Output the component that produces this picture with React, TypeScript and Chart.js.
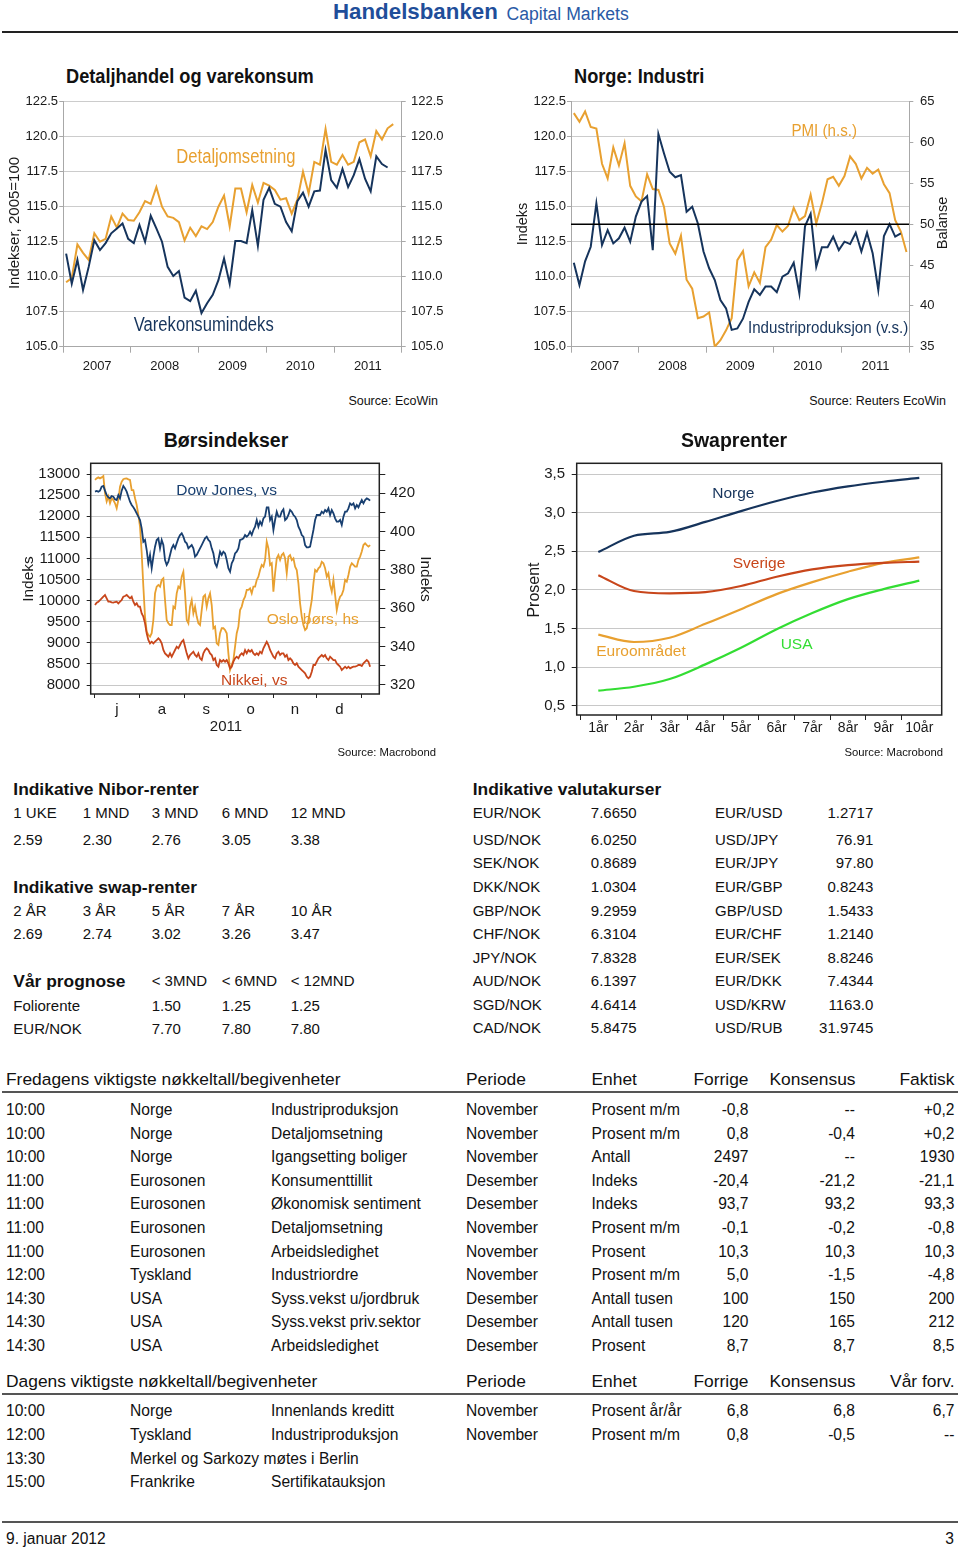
import React, { useEffect, useRef } from 'react';
import { Chart, registerables } from 'chart.js';

Chart.register(...registerables);

const SANS = '"Liberation Sans", Arial, Helvetica, sans-serif';

const NAVY = '#16345c';
const ORANGE = '#e8a030';
const NAVY3 = '#183f70';
const RED = '#c8461b';
const GREEN = '#33dd33';
const INK = '#1a1a1a';

// ---------- Detaljhandel og varekonsum (monthly, Jan 2007 ->)
const yearLabels = ['2007', '2008', '2009', '2010', '2011'];
const yearTicks = [0, 6, 12, 18, 24, 30, 36, 42, 48, 54, 60];
const indexLevels = [105, 107.5, 110, 112.5, 115, 117.5, 120, 122.5];
const detaljomsetning = [109.6, 109.9, 112.3, 111.7, 111.2, 113.1, 112.5, 112.7, 114.3, 113.5, 114.5, 114.05, 114.0, 114.6, 115.4, 115.2, 116.4, 115.0, 114.3, 114.2, 113.9, 112.6, 113.5, 112.9, 113.6, 113.4, 113.9, 115.0, 115.8, 113.6, 116.3, 116.3, 114.6, 116.55, 115.3, 116.7, 116.5, 116.2, 115.5, 115.6, 114.5, 115.5, 117.5, 115.95, 118.2, 118.0, 120.55, 118.2, 118.0, 118.7, 118.0, 118.2, 119.6, 119.8, 118.6, 120.4, 119.8, 120.6, 120.9];
const varekonsum = [111.65, 109.5, 111.2, 109.05, 110.7, 112.6, 111.9, 112.4, 113.1, 113.45, 113.8, 112.7, 112.4, 113.7, 112.5, 114.35, 113.45, 112.5, 110.7, 110.05, 110.4, 108.5, 108.25, 109.0, 107.4, 108.1, 108.7, 109.75, 111.3, 109.5, 112.55, 112.55, 112.4, 114.75, 112.2, 115.5, 116.35, 115.2, 115.0, 113.9, 113.25, 115.4, 116.0, 115.0, 116.1, 116.15, 119.05, 116.9, 116.35, 117.7, 116.4, 117.25, 118.4, 117.0, 116.1, 118.6, 118.05, 117.8];

// ---------- Norge: Industri
const pmiLevels = [35, 40, 45, 50, 55, 60, 65];
const pmi = [63.6, 62.55, 63.8, 61.9, 61.7, 57.4, 55.6, 59.4, 57.2, 59.9, 54.7, 53.4, 52.8, 56.1, 54.3, 54.2, 52.1, 47.65, 46.4, 48.6, 43.2, 42.1, 38.5, 38.7, 39.2, 35.0, 35.8, 37.0, 38.5, 45.6, 46.7, 42.4, 44.1, 42.8, 47.2, 48.1, 49.9, 49.1, 49.8, 52.0, 50.5, 51.0, 53.6, 50.1, 52.55, 55.5, 55.8, 54.7, 55.9, 58.3, 57.4, 55.6, 56.9, 56.2, 56.7, 54.9, 53.8, 50.5, 49.1, 46.6];
const industriproduksjon = [111.0, 109.4, 111.1, 112.14, 115.24, 112.26, 113.33, 112.38, 112.74, 113.5, 112.5, 114.29, 115.36, 115.76, 111.9, 120.19, 118.8, 117.5, 117.1, 117.26, 114.64, 115.0, 113.8, 111.8, 110.6, 109.76, 108.33, 107.74, 106.2, 106.3, 107.0, 108.2, 109.1, 108.7, 109.3, 109.3, 108.9, 110.0, 110.24, 111.0, 108.8, 113.6, 114.5, 110.7, 112.1, 112.1, 112.86, 111.9, 112.5, 112.33, 113.14, 111.8, 113.14, 111.67, 109.05, 112.9, 113.76, 112.86, 113.1];
const pmiBalanceLine = [50, 50];

// ---------- Børsindekser (days since 1 July 2011, sampled ~ every trading day)
const BORS_DAY0 = 0.46;
const BORS_STEP = 1.1468;
const monthTicks = [0, 15.5, 31, 46.5, 62, 77, 92, 107.5, 123, 138, 153, 168.5, 184];
const monthLetters = ['j', 'a', 's', 'o', 'n', 'd'];
const borsLeftLevels = [8000, 8500, 9000, 9500, 10000, 10500, 11000, 11500, 12000, 12500, 13000];
const borsRightLevels = [320, 330, 340, 350, 360, 370, 380, 390, 400, 410, 420, 430];
const dowJones = [12581, 12597, 12581, 12605, 12700, 12716, 12605, 12502, 12447, 12423, 12479, 12463, 12400, 12384, 12502, 12423, 12605, 12716, 12660, 12581, 12463, 12344, 12265, 12210, 12147, 12068, 11989, 11910, 11712, 11396, 11436, 11199, 10883, 11081, 10765, 11041, 11278, 11436, 11475, 11238, 11436, 11317, 10962, 10844, 10923, 11081, 11238, 11317, 11238, 11357, 11475, 11554, 11594, 11515, 11396, 11357, 11238, 11278, 11317, 11238, 11041, 11081, 11160, 11238, 11317, 11396, 11475, 11515, 11436, 11396, 11238, 11120, 10883, 10804, 10962, 11160, 11081, 11160, 11120, 10962, 10765, 10686, 10883, 10962, 11120, 11160, 11238, 11436, 11452, 11475, 11554, 11515, 11554, 11633, 11554, 11673, 11752, 11910, 11752, 11870, 11791, 11949, 11989, 12210, 12210, 11910, 11989, 11673, 11910, 12107, 11989, 11989, 12107, 12163, 11910, 11949, 12028, 12147, 12107, 12028, 11989, 11910, 11752, 11673, 11554, 11515, 11317, 11262, 11262, 11278, 11475, 11673, 11910, 12028, 12028, 12028, 12107, 12068, 12147, 12107, 12186, 12028, 12147, 12068, 11949, 11870, 11870, 11910, 11791, 11989, 12107, 12107, 12186, 12305, 12265, 12305, 12186, 12265, 12210, 12305, 12384, 12305, 12384, 12423, 12400, 12368];
const osloBors = [427.0, 427.8, 428.3, 427.8, 428.3, 429.0, 420.0, 415.7, 418.3, 414.8, 417.4, 416.5, 414.8, 412.2, 416.5, 423.5, 426.1, 427.3, 427.7, 427.8, 427.3, 427.0, 421.7, 421.7, 417.4, 413.9, 408.7, 402.6, 388.7, 371.3, 355.7, 347.8, 346.1, 345.2, 347.0, 353.9, 367.8, 371.3, 372.2, 371.3, 374.8, 375.7, 364.3, 353.9, 352.2, 351.3, 351.3, 360.9, 360.0, 367.8, 371.3, 370.4, 376.5, 379.1, 367.8, 353.9, 352.2, 360.9, 364.3, 357.4, 360.9, 355.7, 352.2, 351.3, 359.1, 366.1, 367.0, 360.9, 365.2, 367.8, 361.7, 349.6, 350.4, 341.7, 340.9, 347.0, 349.6, 349.6, 348.7, 347.0, 336.5, 327.8, 330.4, 333.0, 340.0, 347.0, 350.4, 359.1, 360.9, 364.3, 366.1, 369.6, 369.6, 370.4, 367.8, 371.3, 371.3, 374.8, 376.5, 380.0, 382.6, 381.7, 385.2, 394.8, 391.3, 382.6, 383.5, 368.7, 378.3, 386.1, 387.8, 385.2, 387.8, 388.7, 386.1, 378.3, 387.0, 387.8, 385.2, 386.1, 381.7, 380.0, 373.0, 362.6, 355.7, 351.3, 348.7, 349.6, 353.9, 359.1, 364.3, 373.0, 380.0, 379.1, 380.9, 381.7, 384.3, 383.5, 380.9, 376.5, 378.3, 372.2, 368.7, 374.8, 367.0, 359.1, 363.5, 366.1, 367.0, 369.6, 374.8, 373.9, 377.4, 381.7, 383.5, 382.6, 381.7, 381.7, 385.2, 387.0, 389.6, 393.0, 393.9, 393.0, 392.2, 393.0];
const nikkei = [9896, 9951, 9975, 10014, 10054, 10093, 10133, 10054, 9975, 9975, 9959, 9951, 9967, 9975, 9935, 9975, 10014, 10093, 10109, 10133, 10093, 10054, 10093, 9975, 9896, 9935, 9856, 9856, 9698, 9619, 9461, 9224, 9066, 8987, 9027, 8987, 9027, 9066, 9106, 9066, 8987, 8829, 8750, 8711, 8671, 8750, 8671, 8750, 8829, 8908, 8869, 8948, 9027, 9066, 8908, 8750, 8632, 8711, 8750, 8790, 8711, 8671, 8750, 8632, 8592, 8750, 8829, 8869, 8829, 8750, 8711, 8592, 8632, 8474, 8434, 8592, 8553, 8592, 8553, 8592, 8513, 8395, 8434, 8553, 8632, 8671, 8632, 8711, 8750, 8711, 8829, 8750, 8829, 8790, 8829, 8750, 8711, 8750, 8711, 8790, 8750, 8869, 8948, 9027, 8948, 8829, 8750, 8671, 8632, 8750, 8790, 8711, 8750, 8750, 8671, 8711, 8592, 8632, 8592, 8513, 8474, 8513, 8434, 8395, 8355, 8316, 8276, 8197, 8158, 8197, 8316, 8474, 8474, 8553, 8632, 8671, 8711, 8671, 8711, 8632, 8592, 8671, 8632, 8592, 8592, 8513, 8474, 8434, 8355, 8395, 8434, 8395, 8434, 8395, 8418, 8434, 8434, 8450, 8474, 8474, 8450, 8513, 8553, 8592, 8553, 8434];

// ---------- Swaprenter
const tenors = ['1år', '2år', '3år', '4år', '5år', '6år', '7år', '8år', '9år', '10år'];
const tenorTicks = [0.5, 1, 1.5, 2, 2.5, 3, 3.5, 4, 4.5, 5, 5.5, 6, 6.5, 7, 7.5, 8, 8.5, 9, 9.5, 10];
const swapLevels = [0.5, 1, 1.5, 2, 2.5, 3, 3.5];
const swapNorge = [2.49, 2.70, 2.75, 2.88, 3.02, 3.15, 3.26, 3.34, 3.40, 3.45];
const swapSverige = [2.19, 1.985, 1.955, 1.97, 2.05, 2.17, 2.265, 2.32, 2.35, 2.365];
const swapEuro = [1.42, 1.325, 1.38, 1.56, 1.75, 1.945, 2.10, 2.235, 2.35, 2.42];
const swapUSA = [0.695, 0.745, 0.845, 1.035, 1.25, 1.49, 1.70, 1.88, 2.01, 2.12];

// ---------- Tables
const niborHeads = ['1 UKE', '1 MND', '3 MND', '6 MND', '12 MND'];
const niborRates = ['2.59', '2.30', '2.76', '3.05', '3.38'];
const swapHeads = ['2 ÅR', '3 ÅR', '5 ÅR', '7 ÅR', '10 ÅR'];
const swapRates = ['2.69', '2.74', '3.02', '3.26', '3.47'];
const prognoseHeads = ['< 3MND', '< 6MND', '< 12MND'];
const prognoseFolio = ['1.50', '1.25', '1.25'];
const prognoseEurNok = ['7.70', '7.80', '7.80'];
const fxLeft = [['EUR/NOK', '7.6650'], ['USD/NOK', '6.0250'], ['SEK/NOK', '0.8689'], ['DKK/NOK', '1.0304'], ['GBP/NOK', '9.2959'], ['CHF/NOK', '6.3104'], ['JPY/NOK', '7.8328'], ['AUD/NOK', '6.1397'], ['SGD/NOK', '4.6414'], ['CAD/NOK', '5.8475']];
const fxRight = [['EUR/USD', '1.2717'], ['USD/JPY', '76.91'], ['EUR/JPY', '97.80'], ['EUR/GBP', '0.8243'], ['GBP/USD', '1.5433'], ['EUR/CHF', '1.2140'], ['EUR/SEK', '8.8246'], ['EUR/DKK', '7.4344'], ['USD/KRW', '1163.0'], ['USD/RUB', '31.9745']];
const fredagHead = ['Fredagens viktigste nøkkeltall/begivenheter', 'Periode', 'Enhet', 'Forrige', 'Konsensus', 'Faktisk'];
const fredagRows = [
  ['10:00', 'Norge', 'Industriproduksjon', 'November', 'Prosent m/m', '-0,8', '--', '+0,2'],
  ['10:00', 'Norge', 'Detaljomsetning', 'November', 'Prosent m/m', '0,8', '-0,4', '+0,2'],
  ['10:00', 'Norge', 'Igangsetting boliger', 'November', 'Antall', '2497', '--', '1930'],
  ['11:00', 'Eurosonen', 'Konsumenttillit', 'Desember', 'Indeks', '-20,4', '-21,2', '-21,1'],
  ['11:00', 'Eurosonen', 'Økonomisk sentiment', 'Desember', 'Indeks', '93,7', '93,2', '93,3'],
  ['11:00', 'Eurosonen', 'Detaljomsetning', 'November', 'Prosent m/m', '-0,1', '-0,2', '-0,8'],
  ['11:00', 'Eurosonen', 'Arbeidsledighet', 'November', 'Prosent', '10,3', '10,3', '10,3'],
  ['12:00', 'Tyskland', 'Industriordre', 'November', 'Prosent m/m', '5,0', '-1,5', '-4,8'],
  ['14:30', 'USA', 'Syss.vekst u/jordbruk', 'Desember', 'Antall tusen', '100', '150', '200'],
  ['14:30', 'USA', 'Syss.vekst priv.sektor', 'Desember', 'Antall tusen', '120', '165', '212'],
  ['14:30', 'USA', 'Arbeidsledighet', 'Desember', 'Prosent', '8,7', '8,7', '8,5'],
];
const dagensHead = ['Dagens viktigste nøkkeltall/begivenheter', 'Periode', 'Enhet', 'Forrige', 'Konsensus', 'Vår forv.'];
const dagensRows = [
  ['10:00', 'Norge', 'Innenlands kreditt', 'November', 'Prosent år/år', '6,8', '6,8', '6,7'],
  ['12:00', 'Tyskland', 'Industriproduksjon', 'November', 'Prosent m/m', '0,8', '-0,5', '--'],
  ['13:30', 'Merkel og Sarkozy møtes i Berlin', '', '', '', '', '', ''],
  ['15:00', 'Frankrike', 'Sertifikatauksjon', '', '', '', '', ''],
];

// ---------- helpers
const monthly = (vals: number[]) => vals.map((v, i) => ({ x: i + 0.5, y: v }));
const borsPoints = (vals: number[]) => vals.map((v, i) => ({ x: BORS_DAY0 + i * BORS_STEP, y: v }));
const tenorPoints = (vals: number[]) => vals.map((v, i) => ({ x: i + 1, y: v }));

const textPlugin: any = {
  id: 'texts',
  beforeDatasetsDraw(chart: any, _a: any, opts: any) {
    const items = (opts && opts.items) || [];
    const ctx = chart.ctx;
    for (const it of items) {
      let x = it.x;
      let y = it.y;
      if (!it.px) {
        x = chart.scales.x.getPixelForValue(it.x);
        y = chart.scales[it.axis || 'y'].getPixelForValue(it.y);
      }
      ctx.save();
      ctx.font = it.font;
      ctx.fillStyle = it.color;
      ctx.textAlign = it.align || 'center';
      ctx.textBaseline = 'middle';
      ctx.translate(x, y);
      if (it.rot) ctx.rotate(it.rot);
      if (it.sx) ctx.scale(it.sx, 1);
      ctx.fillText(it.t, 0, 0);
      ctx.restore();
    }
  },
};

const framePlugin: any = {
  id: 'frame',
  afterDraw(chart: any, _a: any, opts: any) {
    if (!opts || !opts.color) return;
    const { ctx, chartArea: a } = chart;
    ctx.save();
    ctx.strokeStyle = opts.color;
    ctx.lineWidth = opts.width || 1;
    ctx.strokeRect(a.left, a.top, a.right - a.left, a.bottom - a.top);
    ctx.restore();
  },
};

function yAxis(o: any) {
  return {
    type: 'linear',
    position: o.pos,
    min: o.min,
    max: o.max,
    afterBuildTicks: (s: any) => {
      s.ticks = o.ticks.map((v: number) => ({ value: v }));
    },
    afterFit: (s: any) => {
      s.width = o.width;
    },
    ticks: { autoSkip: false, padding: o.pad, color: INK, font: o.font, callback: (v: number) => o.fmt(v) },
    grid: {
      drawOnChartArea: o.grid,
      color: o.gridColor || '#cccccc',
      tickLength: o.tickLen,
      tickColor: o.tickColor,
      lineWidth: 1,
    },
    border: { display: o.border, color: o.borderColor || '#a8a8a8' },
  };
}

function xAxis(o: any) {
  const col = (c: any) => (c.tick && o.isMark(c.tick.value) ? o.markColor : 'rgba(0,0,0,0)');
  return {
    type: 'linear',
    position: 'bottom',
    min: o.min,
    max: o.max,
    afterBuildTicks: (s: any) => {
      s.ticks = o.ticks.map((v: number) => ({ value: v }));
    },
    afterFit: (s: any) => {
      s.height = o.height;
    },
    ticks: {
      autoSkip: false,
      maxRotation: 0,
      minRotation: 0,
      padding: o.pad,
      color: INK,
      font: o.font,
      callback: (v: number, i: number) => o.fmt(v, i),
    },
    grid: { drawOnChartArea: false, tickLength: o.tickLen, color: col, tickColor: col, lineWidth: 1 },
    border: { display: o.border, color: o.borderColor || '#a8a8a8' },
  };
}

const baseOptions = (padTop: number, padRight = 0) => ({
  animation: false,
  responsive: false,
  events: [],
  layout: { padding: { top: padTop, left: 0, right: padRight, bottom: 0 } },
});

const line = (data: any[], color: string, width: number, axis = 'y', extra: any = {}) => ({
  data,
  borderColor: color,
  backgroundColor: color,
  borderWidth: width,
  pointRadius: 0,
  fill: false,
  yAxisID: axis,
  ...extra,
});

function cfgDetalj(): any {
  const W = 460, H = 320;
  const f13 = { family: SANS, size: 13 };
  return {
    type: 'line',
    data: {
      datasets: [
        line(monthly(varekonsum), NAVY, 2),
        line(monthly(detaljomsetning), ORANGE, 2),
      ],
    },
    options: {
      ...baseOptions(41.7),
      plugins: {
        legend: { display: false },
        tooltip: { enabled: false },
        texts: {
          items: [
            { t: 'Detaljomsetning', x: 30.6, y: 118.55, font: `20px ${SANS}`, sx: 0.83, color: ORANGE },
            { t: 'Varekonsumindeks', x: 24.9, y: 106.48, font: `20px ${SANS}`, sx: 0.83, color: NAVY },
            { t: 'Indekser, 2005=100', px: true, x: 15, y: 163, rot: -Math.PI / 2, font: `15px ${SANS}`, color: INK },
          ],
        },
      },
      scales: {
        x: xAxis({
          min: 0, max: 60, ticks: yearTicks, height: H - 286.7, tickLen: 6, pad: 5.5, font: f13,
          fmt: (v: number) => (v % 12 === 6 ? yearLabels[(v - 6) / 12] : ''),
          isMark: (v: number) => v % 12 === 0, markColor: '#a8a8a8', border: true,
        }),
        y: yAxis({ pos: 'left', min: 105, max: 122.5, ticks: indexLevels, width: 63.3, pad: 1.3, tickLen: 4, tickColor: '#a8a8a8', font: f13, fmt: (v: number) => v.toFixed(1), grid: true, border: true }),
        y1: yAxis({ pos: 'right', min: 105, max: 122.5, ticks: indexLevels, width: W - 401.7, pad: 5.3, tickLen: 4, tickColor: '#a8a8a8', font: f13, fmt: (v: number) => v.toFixed(1), grid: false, border: true }),
      },
    },
    plugins: [textPlugin],
  };
}

function cfgIndustri(): any {
  const W = 460, H = 320;
  const f13 = { family: SANS, size: 13 };
  return {
    type: 'line',
    data: {
      datasets: [
        line([{ x: 0, y: pmiBalanceLine[0] }, { x: 60, y: pmiBalanceLine[1] }], '#000000', 1.5, 'y1'),
        line(monthly(industriproduksjon), NAVY, 2),
        line(monthly(pmi), ORANGE, 2, 'y1'),
      ],
    },
    options: {
      ...baseOptions(41.7),
      plugins: {
        legend: { display: false },
        tooltip: { enabled: false },
        texts: {
          items: [
            { t: 'PMI (h.s.)', x: 44.9, y: 61.33, axis: 'y1', font: `17px ${SANS}`, sx: 0.89, color: ORANGE },
            { t: 'Industriproduksjon (v.s.)', x: 45.6, y: 106.3, font: `17px ${SANS}`, sx: 0.89, color: NAVY },
            { t: 'Indeks', px: true, x: 22.7, y: 164, rot: -Math.PI / 2, font: `14.5px ${SANS}`, color: INK },
            { t: 'Balanse', px: true, x: 443, y: 163, rot: -Math.PI / 2, font: `14.5px ${SANS}`, color: INK },
          ],
        },
      },
      scales: {
        x: xAxis({
          min: 0, max: 60, ticks: yearTicks, height: H - 286.7, tickLen: 6, pad: 5.5, font: f13,
          fmt: (v: number) => (v % 12 === 6 ? yearLabels[(v - 6) / 12] : ''),
          isMark: (v: number) => v % 12 === 0, markColor: '#a8a8a8', border: true,
        }),
        y: yAxis({ pos: 'left', min: 105, max: 122.5, ticks: indexLevels, width: 71, pad: 1, tickLen: 4, tickColor: '#a8a8a8', font: f13, fmt: (v: number) => v.toFixed(1), grid: true, border: true }),
        y1: yAxis({ pos: 'right', min: 35, max: 65, ticks: pmiLevels, width: W - 409.3, pad: 6.7, tickLen: 4, tickColor: '#a8a8a8', font: f13, fmt: (v: number) => String(v), grid: false, border: true }),
      },
    },
    plugins: [textPlugin],
  };
}

function cfgBors(): any {
  const W = 460, H = 340;
  const f15 = { family: SANS, size: 15 };
  return {
    type: 'line',
    data: {
      datasets: [
        line(borsPoints(dowJones), NAVY3, 1.8),
        line(borsPoints(nikkei), RED, 1.8),
        line(borsPoints(osloBors), ORANGE, 1.8, 'y1'),
      ],
    },
    options: {
      ...baseOptions(43.3),
      plugins: {
        legend: { display: false },
        tooltip: { enabled: false },
        frame: { color: '#222222', width: 1.5 },
        texts: {
          items: [
            { t: 'Dow Jones, vs', x: 91, y: 12597, font: `15.5px ${SANS}`, color: NAVY3 },
            { t: 'Oslo børs, hs', x: 150.2, y: 9556, font: `15.5px ${SANS}`, color: ORANGE },
            { t: 'Nikkei, vs', x: 110, y: 8102, font: `15.5px ${SANS}`, color: RED },
            { t: 'Indeks', px: true, x: 28.3, y: 159, rot: -Math.PI / 2, font: `15.5px ${SANS}`, color: INK },
            { t: 'Indeks', px: true, x: 425, y: 159, rot: Math.PI / 2, font: `15.5px ${SANS}`, color: INK },
            { t: '2011', px: true, x: 226, y: 307, font: `15px ${SANS}`, color: INK },
          ],
        },
      },
      scales: {
        x: xAxis({
          min: -2.5, max: 196, ticks: monthTicks, height: H - 274, tickLen: 4, pad: 3, font: f15,
          fmt: (_v: number, i: number) => (i % 2 === 1 ? monthLetters[(i - 1) / 2] : ''),
          isMark: (v: number) => monthTicks.indexOf(v) % 2 === 0, markColor: '#222222', border: false,
        }),
        y: yAxis({ pos: 'left', min: 7787, max: 13253.6, ticks: borsLeftLevels, width: 90.7, pad: 6.7, tickLen: 4, tickColor: '#222222', gridColor: '#c8c8c8', font: f15, fmt: (v: number) => String(v), grid: true, border: false }),
        y1: yAxis({ pos: 'right', min: 315.3, max: 435.65, ticks: borsRightLevels, width: W - 379.3, pad: 4.7, tickLen: 6, tickColor: '#222222', font: f15, fmt: (v: number) => (v % 20 === 0 ? String(v) : ''), grid: false, border: false }),
      },
    },
    plugins: [textPlugin, framePlugin],
  };
}

function cfgSwap(): any {
  const W = 460, H = 340;
  const f15 = { family: SANS, size: 15 };
  const f14 = { family: SANS, size: 14 };
  const smooth = { cubicInterpolationMode: 'monotone' };
  return {
    type: 'line',
    data: {
      datasets: [
        line(tenorPoints(swapNorge), NAVY, 2.2, 'y', smooth),
        line(tenorPoints(swapSverige), RED, 2.2, 'y', smooth),
        line(tenorPoints(swapEuro), ORANGE, 2.2, 'y', smooth),
        line(tenorPoints(swapUSA), GREEN, 2.2, 'y', smooth),
      ],
    },
    options: {
      ...baseOptions(43.3, W - 441.7),
      plugins: {
        legend: { display: false },
        tooltip: { enabled: false },
        frame: { color: '#222222', width: 1.5 },
        texts: {
          items: [
            { t: 'Norge', x: 4.785, y: 3.25, font: `15.5px ${SANS}`, color: NAVY },
            { t: 'Sverige', x: 5.505, y: 2.343, font: `15.5px ${SANS}`, color: RED },
            { t: 'Euroområdet', x: 2.196, y: 1.199, font: `15.5px ${SANS}`, color: ORANGE },
            { t: 'USA', x: 6.56, y: 1.286, font: `15.5px ${SANS}`, color: GREEN },
            { t: 'Prosent', px: true, x: 35, y: 170, rot: -Math.PI / 2, font: `16px ${SANS}`, color: INK },
          ],
        },
      },
      scales: {
        x: xAxis({
          min: 0.394, max: 10.628, ticks: tenorTicks, height: H - 295, tickLen: 5, pad: 0, font: f14,
          fmt: (v: number) => (Number.isInteger(v) ? tenors[v - 1] : ''),
          isMark: (v: number) => !Number.isInteger(v), markColor: '#222222', border: false,
        }),
        y: yAxis({ pos: 'left', min: 0.3796, max: 3.6386, ticks: swapLevels, width: 76.7, pad: 6.7, tickLen: 5, tickColor: '#222222', gridColor: '#c8c8c8', font: f15, fmt: (v: number) => v.toFixed(1).replace('.', ','), grid: true, border: false }),
      },
    },
    plugins: [textPlugin, framePlugin],
  };
}

type TP = { x: number; y: number; s: number; t: string; b?: boolean; a?: 'left' | 'right' | 'center'; c?: string; sx?: number };
const Txt = ({ x, y, s, t, b, a = 'left', c = '#111', sx }: TP) => {
  const lh = Math.round(s * 1.25);
  const style: React.CSSProperties = {
    position: 'absolute',
    top: y - lh / 2,
    fontSize: s,
    lineHeight: lh + 'px',
    fontFamily: SANS,
    fontWeight: b ? 700 : 400,
    color: c,
    whiteSpace: 'nowrap',
  };
  if (a === 'left') style.left = x;
  else if (a === 'right') style.right = 960 - x;
  else {
    style.left = x - 300;
    style.width = 600;
    style.textAlign = 'center';
  }
  if (sx) {
    style.transform = `scaleX(${sx})`;
    style.transformOrigin = a === 'left' ? 'left center' : a === 'right' ? 'right center' : 'center center';
  }
  return <div style={style}>{t}</div>;
};

const Rule = ({ y, h = 2, c = '#555' }: { y: number; h?: number; c?: string }) => (
  <div style={{ position: 'absolute', left: 2, width: 956, top: y - h / 2, height: h, background: c }} />
);

const ChartBox = ({ x, y, w, h, cfg }: { x: number; y: number; w: number; h: number; cfg: () => any }) => {
  const ref = useRef<HTMLCanvasElement | null>(null);
  useEffect(() => {
    if (!ref.current) return;
    const ch = new Chart(ref.current, cfg());
    return () => ch.destroy();
  }, [cfg]);
  return (
    <div style={{ position: 'absolute', left: x, top: y, width: w, height: h }}>
      <canvas ref={ref} width={w} height={h} style={{ width: w, height: h, display: 'block' }} />
    </div>
  );
};

const EventTable = ({ head, rows, headY, rowY }: { head: string[]; rows: string[][]; headY: number; rowY: number }) => {
  const cols = [6, 130, 271, 466, 591.5];
  const rights = [748.5, 855, 954.5];
  const HS = 17.4;
  const RS = 15.6;
  const out: any[] = [];
  out.push(<Txt key="h0" x={6} y={headY} s={HS} t={head[0]} />);
  out.push(<Txt key="h1" x={466} y={headY} s={HS} t={head[1]} />);
  out.push(<Txt key="h2" x={591.5} y={headY} s={HS} t={head[2]} />);
  out.push(<Txt key="h3" x={748.5} y={headY} s={HS} a="right" t={head[3]} />);
  out.push(<Txt key="h4" x={855.5} y={headY} s={HS} a="right" t={head[4]} />);
  out.push(<Txt key="h5" x={954.5} y={headY} s={HS} a="right" t={head[5]} />);
  out.push(<Rule key="rule" y={headY + 12.5} />);
  rows.forEach((r, i) => {
    const y = rowY + 23.6 * i;
    r.slice(0, 5).forEach((t, j) => {
      if (t) out.push(<Txt key={`r${i}c${j}`} x={cols[j]} y={y} s={RS} t={t} />);
    });
    r.slice(5).forEach((t, j) => {
      if (t) out.push(<Txt key={`r${i}v${j}`} x={rights[j]} y={y} s={RS} a="right" t={t} />);
    });
  });
  return <>{out}</>;
};

export default function App() {
  const niborCols = [13.3, 82.7, 151.7, 221.7, 290.7];
  const fxY = [812.7, 839.3, 862.7, 886, 910, 933.3, 957.3, 980.7, 1004.3, 1027.7];
  return (
    <div style={{ position: 'absolute', left: 0, top: 0, width: 960, height: 1550, background: '#fff', overflow: 'hidden', fontFamily: SANS }}>
      {/* page header */}
      <Txt x={333} y={12.2} s={22.3} b c="#1f4e9a" t="Handelsbanken" />
      <Txt x={506.5} y={13.9} s={17.6} c="#2a5aa6" t="Capital Markets" />
      <Rule y={32.3} c="#222" />

      {/* charts */}
      <Txt x={66} y={76} s={20} b sx={0.91} t="Detaljhandel og varekonsum" />
      <ChartBox x={0} y={60} w={460} h={320} cfg={cfgDetalj} />
      <Txt x={438} y={401} s={12.5} a="right" t="Source: EcoWin" />

      <Txt x={574} y={76} s={20} b sx={0.91} t="Norge: Industri" />
      <ChartBox x={500} y={60} w={460} h={320} cfg={cfgIndustri} />
      <Txt x={946} y={401} s={12.5} a="right" t="Source: Reuters EcoWin" />

      <Txt x={226} y={440} s={19.5} b a="center" t="Børsindekser" />
      <ChartBox x={0} y={420} w={460} h={340} cfg={cfgBors} />
      <Txt x={436} y={752} s={11.3} a="right" t="Source: Macrobond" />

      <Txt x={734} y={440} s={19.5} b a="center" t="Swaprenter" />
      <ChartBox x={500} y={420} w={460} h={340} cfg={cfgSwap} />
      <Txt x={943} y={752} s={11.3} a="right" t="Source: Macrobond" />

      {/* Nibor / swap / prognose */}
      <Txt x={13.3} y={789.3} s={17.4} b t="Indikative Nibor-renter" />
      {niborHeads.map((t, i) => <Txt key={'nh' + i} x={niborCols[i]} y={812.7} s={15} t={t} />)}
      {niborRates.map((t, i) => <Txt key={'nr' + i} x={niborCols[i]} y={839.3} s={15} t={t} />)}
      <Txt x={13.3} y={886.7} s={17.4} b t="Indikative swap-renter" />
      {swapHeads.map((t, i) => <Txt key={'sh' + i} x={niborCols[i]} y={910} s={15} t={t} />)}
      {swapRates.map((t, i) => <Txt key={'sr' + i} x={niborCols[i]} y={933.3} s={15} t={t} />)}
      <Txt x={13.3} y={980.7} s={17.4} b t="Vår prognose" />
      {prognoseHeads.map((t, i) => <Txt key={'ph' + i} x={niborCols[i + 2]} y={980.7} s={15} t={t} />)}
      <Txt x={13.3} y={1005} s={15} t="Foliorente" />
      {prognoseFolio.map((t, i) => <Txt key={'pf' + i} x={niborCols[i + 2]} y={1005} s={15} t={t} />)}
      <Txt x={13.3} y={1028.3} s={15} t="EUR/NOK" />
      {prognoseEurNok.map((t, i) => <Txt key={'pe' + i} x={niborCols[i + 2]} y={1028.3} s={15} t={t} />)}

      {/* valuta */}
      <Txt x={472.7} y={789.3} s={17.4} b t="Indikative valutakurser" />
      {fxLeft.map((p, i) => (
        <React.Fragment key={'fl' + i}>
          <Txt x={472.7} y={fxY[i]} s={15} t={p[0]} />
          <Txt x={636.7} y={fxY[i]} s={15} a="right" t={p[1]} />
        </React.Fragment>
      ))}
      {fxRight.map((p, i) => (
        <React.Fragment key={'fr' + i}>
          <Txt x={715} y={fxY[i]} s={15} t={p[0]} />
          <Txt x={873.3} y={fxY[i]} s={15} a="right" t={p[1]} />
        </React.Fragment>
      ))}

      {/* events */}
      <EventTable head={fredagHead} rows={fredagRows} headY={1079.3} rowY={1110} />
      <EventTable head={dagensHead} rows={dagensRows} headY={1381} rowY={1411.3} />

      {/* footer */}
      <Rule y={1522} />
      <Txt x={6} y={1539} s={15.6} t="9. januar 2012" />
      <Txt x={954} y={1539} s={15.6} a="right" t="3" />
    </div>
  );
}
